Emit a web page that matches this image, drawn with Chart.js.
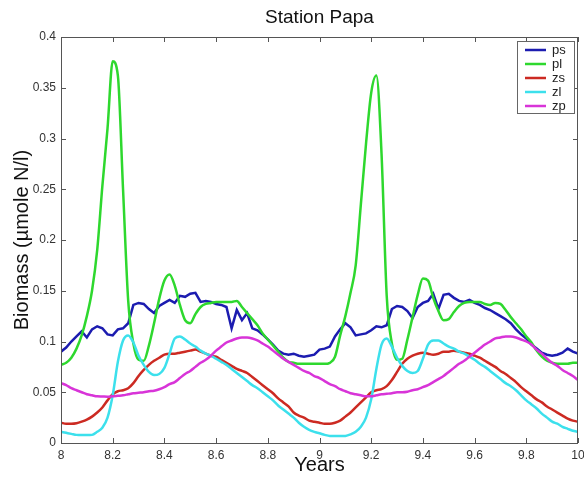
<!DOCTYPE html>
<html>
<head>
<meta charset="utf-8">
<title>Station Papa</title>
<script src="https://cdn.jsdelivr.net/npm/chart.js@4.4.1/dist/chart.umd.min.js"></script>
<style>
    html, body { margin: 0; padding: 0; background: #fff; }
    #wrap { width: 584px; height: 482px; }
</style>
</head>
<body>
<div id="wrap"><canvas id="biomassChart" width="584" height="482"></canvas></div>
<script>
// ─── DATOS ────────────────────────────────────────────────────
// años muestreados cada 0.02
const years = [
    8.00, 8.02, 8.04, 8.06, 8.08, 8.10, 8.12, 8.14, 8.16, 8.18,
    8.20, 8.22, 8.24, 8.26, 8.28, 8.30, 8.32, 8.34, 8.36, 8.38,
    8.40, 8.42, 8.44, 8.46, 8.48, 8.50, 8.52, 8.54, 8.56, 8.58,
    8.60, 8.62, 8.64, 8.66, 8.68, 8.70, 8.72, 8.74, 8.76, 8.78,
    8.80, 8.82, 8.84, 8.86, 8.88, 8.90, 8.92, 8.94, 8.96, 8.98,
    9.00, 9.02, 9.04, 9.06, 9.08, 9.10, 9.12, 9.14, 9.16, 9.18,
    9.20, 9.22, 9.24, 9.26, 9.28, 9.30, 9.32, 9.34, 9.36, 9.38,
    9.40, 9.42, 9.44, 9.46, 9.48, 9.50, 9.52, 9.54, 9.56, 9.58,
    9.60, 9.62, 9.64, 9.66, 9.68, 9.70, 9.72, 9.74, 9.76, 9.78,
    9.80, 9.82, 9.84, 9.86, 9.88, 9.90, 9.92, 9.94, 9.96, 9.98,
    10.00
];

const ps = [
    0.090, 0.094, 0.100, 0.105, 0.110, 0.104, 0.112, 0.115, 0.113, 0.107,
    0.106, 0.112, 0.113, 0.118, 0.136, 0.138, 0.137, 0.132, 0.128, 0.135,
    0.138, 0.141, 0.138, 0.145, 0.144, 0.147, 0.148, 0.139, 0.140, 0.139,
    0.137, 0.136, 0.134, 0.113, 0.131, 0.121, 0.128, 0.113, 0.111, 0.107,
    0.102, 0.097, 0.091, 0.088, 0.087, 0.088, 0.086, 0.085, 0.086, 0.087,
    0.092, 0.093, 0.095, 0.105, 0.112, 0.118, 0.114, 0.106, 0.107, 0.108,
    0.111, 0.115, 0.114, 0.116, 0.132, 0.135, 0.134, 0.130, 0.123, 0.134,
    0.138, 0.140, 0.147, 0.132, 0.146, 0.147, 0.143, 0.140, 0.139, 0.141,
    0.138, 0.136, 0.133, 0.131, 0.128, 0.125, 0.122, 0.118, 0.112, 0.107,
    0.103, 0.097, 0.093, 0.089, 0.087, 0.086, 0.087, 0.089, 0.093, 0.090,
    0.088
];

const pl = [
    0.077, 0.079, 0.084, 0.093, 0.106, 0.125, 0.150, 0.190, 0.253, 0.310,
    0.376, 0.362, 0.250, 0.140, 0.098, 0.082, 0.081, 0.096, 0.118, 0.142,
    0.160, 0.166, 0.155, 0.136, 0.121, 0.118, 0.127, 0.134, 0.137, 0.138,
    0.139, 0.139, 0.139, 0.139, 0.140, 0.134, 0.128, 0.122, 0.116, 0.108,
    0.102, 0.096, 0.090, 0.084, 0.080, 0.079, 0.078, 0.078, 0.078, 0.078,
    0.078, 0.078, 0.079, 0.085, 0.106, 0.125, 0.148, 0.175, 0.235, 0.295,
    0.345, 0.362, 0.285, 0.145, 0.098, 0.082, 0.083, 0.102, 0.124, 0.146,
    0.162, 0.160, 0.143, 0.130, 0.121, 0.122, 0.129, 0.135, 0.138, 0.139,
    0.139, 0.139, 0.137, 0.136, 0.138, 0.137, 0.131, 0.124, 0.118, 0.112,
    0.105, 0.099, 0.091, 0.085, 0.081, 0.079, 0.078, 0.078, 0.078, 0.079,
    0.079
];

const zs = [
    0.020, 0.019, 0.019, 0.0195, 0.021, 0.023, 0.026, 0.030, 0.035, 0.042,
    0.048, 0.051, 0.052, 0.054, 0.059, 0.066, 0.072, 0.077, 0.081, 0.084,
    0.087, 0.088, 0.088, 0.089, 0.090, 0.091, 0.092, 0.090, 0.088, 0.086,
    0.085, 0.082, 0.079, 0.076, 0.073, 0.071, 0.069, 0.065, 0.061, 0.057,
    0.053, 0.049, 0.044, 0.040, 0.036, 0.030, 0.027, 0.025, 0.022, 0.021,
    0.020, 0.019, 0.019, 0.020, 0.022, 0.026, 0.030, 0.035, 0.040, 0.045,
    0.050, 0.052, 0.053, 0.056, 0.062, 0.070, 0.078, 0.083, 0.086, 0.088,
    0.089, 0.088, 0.087, 0.088, 0.090, 0.090, 0.091, 0.090, 0.089, 0.088,
    0.086, 0.084, 0.081, 0.078, 0.075, 0.071, 0.068, 0.064, 0.060, 0.055,
    0.051, 0.047, 0.043, 0.040, 0.036, 0.033, 0.030, 0.027, 0.024, 0.022,
    0.021
];

const zl = [
    0.011, 0.010, 0.009, 0.008, 0.0078, 0.0078, 0.008, 0.011, 0.015, 0.025,
    0.047, 0.080, 0.101, 0.106, 0.099, 0.086, 0.077, 0.070, 0.067, 0.068,
    0.074, 0.088, 0.103, 0.105, 0.102, 0.098, 0.095, 0.091, 0.088, 0.086,
    0.083, 0.080, 0.077, 0.073, 0.069, 0.065, 0.061, 0.057, 0.054, 0.050,
    0.046, 0.042, 0.037, 0.033, 0.029, 0.025, 0.020, 0.016, 0.013, 0.011,
    0.0096, 0.008, 0.007, 0.007, 0.0068, 0.007, 0.0085, 0.011, 0.016, 0.025,
    0.043, 0.073, 0.097, 0.103, 0.095, 0.084, 0.076, 0.071, 0.069, 0.071,
    0.083, 0.097, 0.101, 0.101, 0.098, 0.095, 0.093, 0.090, 0.088, 0.085,
    0.082, 0.078, 0.075, 0.071, 0.067, 0.063, 0.059, 0.056, 0.052, 0.047,
    0.042, 0.038, 0.034, 0.029, 0.025, 0.021, 0.019, 0.016, 0.014, 0.012,
    0.011
];

const zp = [
    0.059, 0.057, 0.054, 0.052, 0.050, 0.048, 0.047, 0.046, 0.0458, 0.0456,
    0.046, 0.0465, 0.047, 0.048, 0.049, 0.0495, 0.050, 0.051, 0.0515, 0.053,
    0.055, 0.058, 0.060, 0.064, 0.068, 0.071, 0.075, 0.079, 0.082, 0.086,
    0.091, 0.095, 0.099, 0.101, 0.103, 0.104, 0.104, 0.103, 0.101, 0.098,
    0.095, 0.091, 0.087, 0.083, 0.080, 0.077, 0.074, 0.071, 0.069, 0.066,
    0.064, 0.061, 0.058, 0.056, 0.053, 0.051, 0.049, 0.048, 0.047, 0.046,
    0.046, 0.047, 0.048, 0.0485, 0.049, 0.050, 0.050, 0.0505, 0.052, 0.053,
    0.055, 0.057, 0.060, 0.063, 0.066, 0.070, 0.074, 0.078, 0.081, 0.085,
    0.089, 0.093, 0.097, 0.100, 0.103, 0.104, 0.105, 0.105, 0.104, 0.102,
    0.100, 0.097, 0.092, 0.088, 0.083, 0.079, 0.076, 0.072, 0.069, 0.066,
    0.062
];

const seriesNames = ['ps', 'pl', 'zs', 'zl', 'zp'];
const seriesColors = ['#1c1cb0', '#2ed82e', '#cc2a22', '#3ce0ec', '#d834d8'];

const FONT = '"Liberation Sans", Arial, sans-serif';

// ─── PLUGINS ───────────────────────────────────────────────────
// marco tipo caja con ticks hacia adentro en los cuatro lados
const framePlugin = {
    id: 'frame',
    afterDraw(chart) {
        const { ctx, chartArea: a, scales: { x, y } } = chart;
        ctx.save();
        ctx.strokeStyle = '#555';
        ctx.lineWidth = 1;
        ctx.strokeRect(a.left + 0.5, a.top + 0.5, a.right - a.left - 1, a.bottom - a.top);
        ctx.beginPath();
        x.ticks.forEach(t => {
            const px = Math.round(x.getPixelForValue(t.value)) + 0.5;
            ctx.moveTo(px, a.bottom); ctx.lineTo(px, a.bottom - 5);
            ctx.moveTo(px, a.top); ctx.lineTo(px, a.top + 5);
        });
        y.ticks.forEach(t => {
            const py = Math.round(y.getPixelForValue(t.value)) + 0.5;
            ctx.moveTo(a.left, py); ctx.lineTo(a.left + 5, py);
            ctx.moveTo(a.right, py); ctx.lineTo(a.right - 5, py);
        });
        ctx.stroke();

        // título
        ctx.fillStyle = '#111';
        ctx.font = `19px ${FONT}`;
        ctx.textAlign = 'center';
        ctx.textBaseline = 'middle';
        ctx.fillText('Station Papa', (a.left + a.right) / 2, 18);
        ctx.restore();
    }
};

// leyenda dentro del área, arriba a la derecha
const boxLegend = {
    id: 'boxLegend',
    afterDraw(chart) {
        const { ctx, chartArea: a } = chart;
        const w = 57, h = 72;
        const left = a.right - 4 - w, top = a.top + 4;
        ctx.save();
        ctx.fillStyle = '#fff';
        ctx.fillRect(left, top, w, h);
        ctx.strokeStyle = '#666';
        ctx.lineWidth = 1;
        ctx.strokeRect(left + 0.5, top + 0.5, w, h);
        ctx.font = `13px ${FONT}`;
        ctx.textAlign = 'left';
        ctx.textBaseline = 'middle';
        chart.data.datasets.forEach((ds, i) => {
            const yy = top + 9 + i * 14;
            ctx.strokeStyle = ds.borderColor;
            ctx.lineWidth = 2.5;
            ctx.beginPath();
            ctx.moveTo(left + 8, yy);
            ctx.lineTo(left + 29, yy);
            ctx.stroke();
            ctx.fillStyle = '#222';
            ctx.fillText(ds.label, left + 35, yy);
        });
        ctx.restore();
    }
};

// ─── GRÁFICO ───────────────────────────────────────────────────
const series = [ps, pl, zs, zl, zp];

const datasets = series.map((vals, i) => ({
    label: seriesNames[i],
    data: years.map((yr, k) => ({ x: yr, y: vals[k] })),
    borderColor: seriesColors[i],
    backgroundColor: seriesColors[i],
    borderWidth: 2.5,
    pointRadius: 0,
    // ps es ruidosa: sin suavizar
    cubicInterpolationMode: i === 0 ? 'default' : 'monotone',
    tension: 0,
    fill: false,
    order: series.length - i   // el último queda encima
}));

new Chart(document.getElementById('biomassChart').getContext('2d'), {
    type: 'line',
    data: { datasets },
    options: {
        responsive: false,
        animation: false,
        events: [],
        layout: { padding: { top: 37, right: 6, left: 0, bottom: 0 } },
        plugins: {
            legend: { display: false },
            tooltip: { enabled: false },
            title: { display: false }
        },
        scales: {
            x: {
                type: 'linear',
                min: 8,
                max: 10,
                grid: { display: false, drawTicks: false },
                border: { display: false },
                ticks: {
                    stepSize: 0.2,
                    padding: 5,
                    color: '#333',
                    font: { family: FONT, size: 12 },
                    maxRotation: 0,
                    callback: v => String(Number(v.toFixed(1)))
                },
                title: {
                    display: true,
                    text: 'Years',
                    color: '#111',
                    font: { family: FONT, size: 20 },
                    padding: { top: 0, bottom: 5 }
                },
                afterFit: s => {
                    s.height = 39;
                    s.paddingLeft = 0;
                    s.paddingRight = 0;
                }
            },
            y: {
                min: 0,
                max: 0.4,
                grid: { display: false, drawTicks: false },
                border: { display: false },
                ticks: {
                    stepSize: 0.05,
                    padding: 5,
                    color: '#333',
                    font: { family: FONT, size: 12 },
                    callback: v => String(Number(v.toFixed(2)))
                },
                title: {
                    display: true,
                    text: 'Biomass (µmole N/l)',
                    color: '#111',
                    font: { family: FONT, size: 20 },
                    padding: { top: 10, bottom: 0 }
                },
                afterFit: s => { s.width = 61; }
            }
        }
    },
    plugins: [framePlugin, boxLegend]
});
</script>
</body>
</html>
